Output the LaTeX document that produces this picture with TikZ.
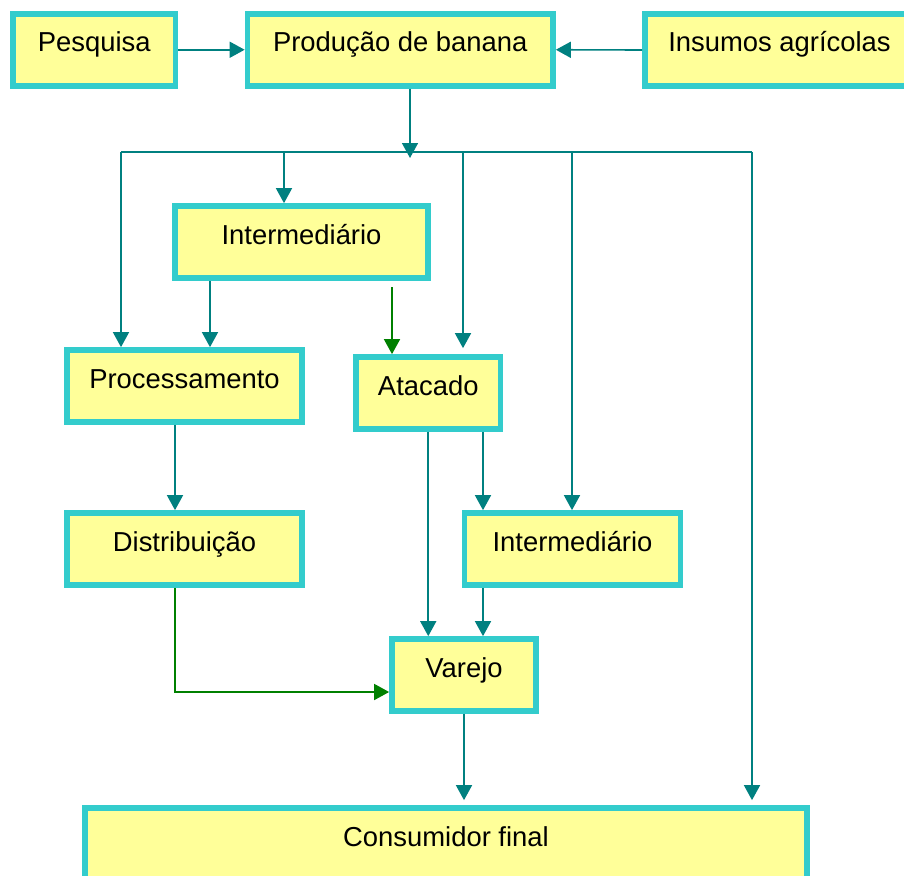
\documentclass[tikz,border=0pt]{standalone}
\usepackage{fontspec}
\setmainfont{Liberation Sans}
\usetikzlibrary{arrows.meta}
\definecolor{boxline}{HTML}{33CCCC}
\definecolor{boxfill}{HTML}{FFFF99}
\definecolor{flowteal}{HTML}{008080}
\definecolor{flowgreen}{HTML}{008000}
\begin{document}
\begin{tikzpicture}[x=1pt,y=-1pt,
  box/.style={draw=boxline, fill=boxfill, line width=5.7pt, inner sep=0pt,
    minimum height=72pt, text height=16pt, text depth=12pt,
    font=\fontsize{27.4}{32}\selectfont},
  flow/.style={draw=flowteal, line width=1.6pt,
    -{Triangle[length=15pt,width=16pt]}},
  alt/.style={flow, draw=flowgreen},
  bus/.style={draw=flowteal, line width=1.6pt}]
\path[use as bounding box, clip] (0,0) rectangle (904,875);

% boxes
\node[box, minimum width=162.5pt] (pes)  at (94.25,49.75) {Pesquisa};
\node[box, minimum width=305.5pt] (prod) at (400.25,49.75) {Produção de banana};
\node[box, minimum width=269pt]   (ins)  at (779.5,50) {Insumos agrícolas};
\node[box, minimum width=253pt]   (int1) at (301.5,242) {Intermediário};
\node[box, minimum width=235pt]   (proc) at (184.5,386) {Processamento};
\node[box, minimum width=144.5pt] (atac) at (428.25,393) {Atacado};
\node[box, minimum width=235pt]   (dist) at (184.5,549) {Distribuição};
\node[box, minimum width=216pt]   (int2) at (572.5,549) {Intermediário};
\node[box, minimum width=144pt]   (var)  at (464,675) {Varejo};
\node[box, minimum width=722pt]   (cons) at (446,844) {Consumidor final};

% helper coordinates
\coordinate (b1) at (121,152);
\coordinate (b2) at (284,152);
\coordinate (b3) at (463,152);
\coordinate (b4) at (572,152);
\coordinate (b5) at (752,152);
\coordinate (jt) at (410,158);
\coordinate (g1) at (392,287);
\coordinate (xa) at (483,0);
\coordinate (xb) at (210,0);
\coordinate (xc) at (175,0);

% inputs into production
\draw[flow] (pes.east) -- (prod.west);
\draw[flow] (ins.west) -- (prod.east);

% production down to the distribution bus
\draw[flow] (prod.south -| jt) -- (jt);
\draw[bus] (b1) -- (b5);
\draw[flow] (b1) -- (b1 |- proc.north);
\draw[flow] (b2) -- (b2 |- int1.north);
\draw[flow, shorten >=6pt] (b3) -- (b3 |- atac.north);
\draw[flow] (b4) -- (b4 |- int2.north);
\draw[flow, shorten >=5pt] (b5) -- (b5 |- cons.north);

% chain links
\draw[flow] (int1.south -| xb) -- (xb |- proc.north);
\draw[alt] (g1) -- (g1 |- atac.north);
\draw[flow] (proc.south -| xc) -- (xc |- dist.north);
\draw[flow] (atac.south) -- (atac.south |- var.north);
\draw[flow] (atac.south -| xa) -- (xa |- int2.north);
\draw[flow] (int2.south -| xa) -- (xa |- var.north);
\draw[alt] (dist.south -| xc) |- ([yshift=-17pt]var.west);
\draw[flow, shorten >=5pt] (var.south) -- (var.south |- cons.north);
\end{tikzpicture}
\end{document}
